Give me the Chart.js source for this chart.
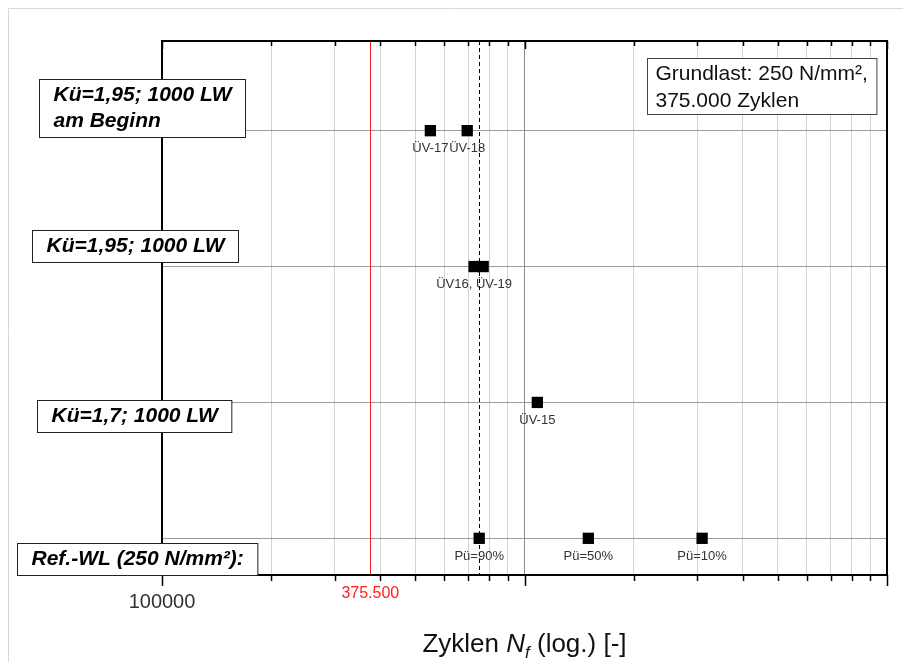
<!DOCTYPE html>
<html>
<head>
<meta charset="utf-8">
<script src="https://cdn.jsdelivr.net/npm/chart.js@4.4.0/dist/chart.umd.min.js"></script>
<style>
  body { margin: 0; background: #fff; }
  canvas { display: block; }
</style>
</head>
<body>
<canvas id="chart" width="903" height="662"></canvas>
<script>
// rows of the chart, top to bottom
const rowLabels = [
  ["Kü=1,95; 1000 LW", "am Beginn"],
  ["Kü=1,95; 1000 LW"],
  ["Kü=1,7; 1000 LW"],
  ["Ref.-WL (250 N/mm²):"],
];
// specimens: cycles to failure, row index, label
const pointCycles = [550000, 695000, 726000, 769000, 1085000, 750000, 1500000, 3090000];
const pointRows = [0, 0, 1, 1, 2, 3, 3, 3];
const pointNames = ["ÜV-17", "ÜV-18", "ÜV16, ÜV-19", "", "ÜV-15", "Pü=90%", "Pü=50%", "Pü=10%"];

const baseCycles = 375500;   // red line, Grundlast
const baseLabel = "375.500";
const p90Cycles = 750000;    // dashed line (Pü=90%)
const xTicks = [100000, 200000, 300000, 400000, 500000, 600000, 700000, 800000, 900000,
  1000000, 2000000, 3000000, 4000000, 5000000, 6000000, 7000000, 8000000, 9000000, 10000000];
const xMajor = [100000, 1000000, 10000000];
const xTickLabels = { 100000: "100000" };
const noteLines = ["Grundlast: 250 N/mm²,", "375.000 Zyklen"];

const FONT = '"Liberation Sans", Arial, sans-serif';
// label box placement (pixels, relative to the row line)
const rowBoxOffsets = [-23, -21, 14, 21];
const rowBoxCenters = [142, 135, 134, 137];

const overlay = {
  id: "overlay",
  beforeDatasetsDraw(chart) {
    const { ctx, chartArea: a, scales: { x } } = chart;
    ctx.save();
    ctx.lineWidth = 1;
    let px = Math.round(x.getPixelForValue(baseCycles)) + 0.5;
    ctx.strokeStyle = "#ff2020";
    ctx.beginPath(); ctx.moveTo(px, a.top); ctx.lineTo(px, a.bottom); ctx.stroke();
    px = Math.round(x.getPixelForValue(p90Cycles)) + 0.5;
    ctx.strokeStyle = "#000";
    ctx.setLineDash([4, 3]);
    ctx.beginPath(); ctx.moveTo(px, a.top); ctx.lineTo(px, a.bottom); ctx.stroke();
    ctx.restore();
  },
  afterDatasetsDraw(chart) {
    const { ctx, scales: { x, y } } = chart;
    ctx.save();
    ctx.font = "13px " + FONT;
    ctx.fillStyle = "#333";
    ctx.textAlign = "center";
    ctx.textBaseline = "middle";
    pointNames.forEach((name, i) => {
      if (!name) return;
      ctx.fillText(name, x.getPixelForValue(pointCycles[i]), y.getPixelForValue(pointRows[i]) + 18);
    });
    ctx.restore();
  },
  afterDraw(chart) {
    const { ctx, chartArea: a, scales: { x, y } } = chart;
    ctx.save();

    // light outer frame
    ctx.strokeStyle = "#d8d8d8";
    ctx.lineWidth = 1;
    ctx.beginPath(); ctx.moveTo(8.5, 662); ctx.lineTo(8.5, 8.5); ctx.lineTo(903, 8.5); ctx.stroke();

    // plot frame
    ctx.strokeStyle = "#000";
    ctx.lineWidth = 2;
    ctx.strokeRect(a.left, a.top, a.right - a.left, a.bottom - a.top);

    // tick marks, bottom outward, top inward
    ctx.lineWidth = 1.5;
    xTicks.forEach(v => {
      const px = Math.round(x.getPixelForValue(v)) + 0.5;
      const major = xMajor.includes(v);
      ctx.beginPath();
      ctx.moveTo(px, a.bottom); ctx.lineTo(px, a.bottom + (major ? 11 : 6));
      ctx.moveTo(px, a.top); ctx.lineTo(px, a.top + (major ? 8 : 5));
      ctx.stroke();
    });

    // tick labels
    ctx.textAlign = "center";
    ctx.textBaseline = "middle";
    ctx.font = "20px " + FONT;
    ctx.fillStyle = "#333";
    Object.keys(xTickLabels).forEach(v => {
      ctx.fillText(xTickLabels[v], x.getPixelForValue(+v), a.bottom + 27);
    });
    ctx.font = "16px " + FONT;
    ctx.fillStyle = "#ff2020";
    ctx.fillText(baseLabel, x.getPixelForValue(baseCycles), a.bottom + 19);

    // axis title: Zyklen N_f (log.) [-]
    const parts = [
      ["Zyklen ", "26px " + FONT, 0],
      ["N", "italic 26px " + FONT, 0],
      ["f", "italic 17px " + FONT, 6],
      [" (log.) [-]", "26px " + FONT, 0],
    ];
    let total = 0;
    parts.forEach(p => { ctx.font = p[1]; total += ctx.measureText(p[0]).width; });
    let tx = (a.left + a.right) / 2 - total / 2;
    ctx.textAlign = "left";
    ctx.textBaseline = "alphabetic";
    ctx.fillStyle = "#111";
    parts.forEach(p => {
      ctx.font = p[1];
      ctx.fillText(p[0], tx, 652 + p[2]);
      tx += ctx.measureText(p[0]).width;
    });

    // row label boxes
    ctx.font = "italic bold 21px " + FONT;
    ctx.lineWidth = 1;
    rowLabels.forEach((lines, i) => {
      const cy = y.getPixelForValue(i) + rowBoxOffsets[i];
      const w = Math.max(...lines.map(l => ctx.measureText(l).width)) + 28;
      const h = lines.length * 26 + 6;
      const left = Math.round(rowBoxCenters[i] - w / 2) + 0.5;
      const top = Math.round(cy - h / 2) + 0.5;
      ctx.fillStyle = "#fff";
      ctx.fillRect(left, top, w, h);
      ctx.strokeStyle = "#222";
      ctx.strokeRect(left, top, w, h);
      ctx.fillStyle = "#000";
      ctx.textBaseline = "middle";
      lines.forEach((l, k) => {
        if (lines.length > 1) {
          ctx.textAlign = "left";
          ctx.fillText(l, left + 14, top + 3 + 13 + k * 26);
        } else {
          ctx.textAlign = "center";
          ctx.fillText(l, left + w / 2, top + h / 2);
        }
      });
    });

    // note box
    ctx.font = "21px " + FONT;
    const nw = Math.max(...noteLines.map(l => ctx.measureText(l).width)) + 17;
    const nh = 56;
    const nl = Math.round(a.right - 11 - nw) + 0.5;
    const nt = Math.round(a.top + 17) + 0.5;
    ctx.fillStyle = "#fff";
    ctx.fillRect(nl, nt, nw, nh);
    ctx.strokeStyle = "#444";
    ctx.strokeRect(nl, nt, nw, nh);
    ctx.fillStyle = "#111";
    ctx.textAlign = "left";
    noteLines.forEach((l, k) => ctx.fillText(l, nl + 8, nt + 16 + k * 27));

    ctx.restore();
  },
};

new Chart(document.getElementById("chart"), {
  type: "scatter",
  data: {
    datasets: [{
      data: pointCycles.map((v, i) => ({ x: v, y: pointRows[i] })),
      pointStyle: "rect",
      pointRadius: 8,
      backgroundColor: "#000",
      borderColor: "#000",
      borderWidth: 0,
    }],
  },
  options: {
    responsive: false,
    animation: false,
    layout: { padding: { left: 162, top: 41, right: 16, bottom: 87 } },
    plugins: { legend: { display: false }, tooltip: { enabled: false } },
    scales: {
      x: {
        type: "logarithmic",
        min: 100000,
        max: 10000000,
        afterBuildTicks: (scale) => { scale.ticks = xTicks.map(v => ({ value: v })); },
        ticks: { display: false },
        border: { display: false },
        grid: {
          drawTicks: false,
          color: (c) => {
            const v = c.tick && c.tick.value;
            if (v === 100000 || v === 10000000) return "rgba(0,0,0,0)";
            return v === 1000000 ? "#8a8a8a" : "#d2d2d2";
          },
        },
      },
      y: {
        type: "linear",
        reverse: true,
        min: -0.66,
        max: 3.27,
        afterBuildTicks: (scale) => { scale.ticks = rowLabels.map((_, i) => ({ value: i })); },
        ticks: { display: false },
        border: { display: false },
        grid: { drawTicks: false, color: "#9a9a9a" },
      },
    },
  },
  plugins: [overlay],
});
</script>
</body>
</html>
